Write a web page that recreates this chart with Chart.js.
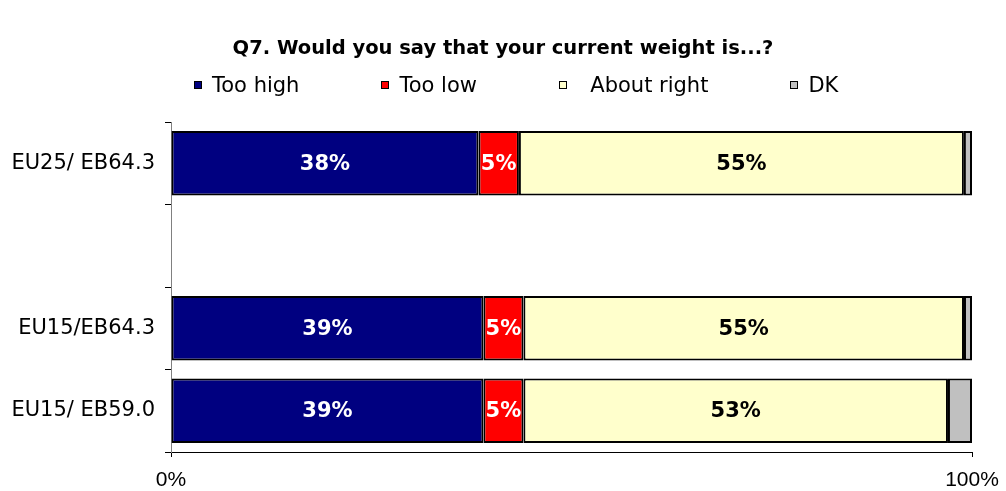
<!DOCTYPE html>
<html>
<head>
<meta charset="utf-8">
<script src="https://cdn.jsdelivr.net/npm/chart.js@4.4.0/dist/chart.umd.min.js"></script>
<style>
    body { margin: 0; background: #fff; }
    #wrap { position: relative; width: 1006px; height: 491px; }
    #legend {
        position: absolute; left: 194px; top: 73px; height: 24px;
        display: flex; align-items: center; gap: 82px;
        font: 21px "DejaVu Sans", sans-serif; color: #000;
    }
    #legend .item { display: flex; align-items: center; white-space: pre; }
    #legend .box { width: 6px; height: 6px; border: 1.5px solid #000; margin-right: 10px; }
</style>
</head>
<body>
<div id="wrap">
    <canvas id="weightChart"></canvas>
    <div id="legend"></div>
</div>
<script>
// Q7 data (raw answers, Excel draws them as a 100% stacked bar)
const categories = ['EU25/ EB64.3', '', 'EU15/EB64.3', 'EU15/ EB59.0'];
const seriesLabels = ['Too high', 'Too low', '  About right', 'DK'];
const tooHigh = [38, null, 39, 39];
const tooLow = [5, null, 5, 5];
const aboutRight = [55, null, 55, 53];
const dontKnow = [1, null, 1, 3];

const rawSeries = [tooHigh, tooLow, aboutRight, dontKnow];
const colors = ['#000080', '#ff0000', '#ffffcc', '#c0c0c0'];
const labelColors = ['#ffffff', '#ffffff', '#000000', null];

// totals per category, used to scale each row to 100%
const totals = categories.map((c, j) => {
    if (tooHigh[j] == null) return null;
    return rawSeries.reduce((sum, s) => sum + s[j], 0);
});

const datasets = rawSeries.map((values, i) => ({
    label: seriesLabels[i],
    data: values.map((v, j) => v == null ? null : v * 100 / totals[j]),
    rawValues: values,
    labelColor: labelColors[i],
    backgroundColor: colors[i],
    borderColor: '#000000',
    borderWidth: 2,
    borderSkipped: false,
    barPercentage: 0.78,
    categoryPercentage: 1
}));

// draw the % values inside the bars
const barLabels = {
    id: 'barLabels',
    afterDatasetsDraw(chart) {
        const ctx = chart.ctx;
        ctx.save();
        ctx.font = 'bold 21px "DejaVu Sans", sans-serif';
        ctx.textAlign = 'center';
        ctx.textBaseline = 'middle';
        chart.data.datasets.forEach((ds, i) => {
            if (!ds.labelColor) return;
            chart.getDatasetMeta(i).data.forEach((bar, j) => {
                const v = ds.rawValues[j];
                if (v == null) return;
                ctx.fillStyle = ds.labelColor;
                ctx.fillText(v + '%', (bar.x + bar.base) / 2, bar.y + 1);
            });
        });
        ctx.restore();
    }
};

const ctx = document.getElementById('weightChart').getContext('2d');
const weightChart = new Chart(ctx, {
    type: 'bar',
    data: { labels: categories, datasets: datasets },
    plugins: [barLabels],
    options: {
        indexAxis: 'y',
        responsive: true,
        maintainAspectRatio: false,
        animation: false,
        layout: { padding: 0 },
        plugins: {
            legend: { display: false },
            tooltip: { enabled: false },
            title: {
                display: true,
                text: 'Q7. Would you say that your current weight is...?',
                color: '#000',
                font: { family: '"DejaVu Sans", sans-serif', size: 19.5, weight: 'bold' },
                padding: { top: 37, bottom: 61.6 }
            }
        },
        scales: {
            x: {
                stacked: true,
                min: 0,
                max: 100,
                ticks: {
                    stepSize: 100,
                    padding: 11,
                    color: '#000',
                    font: { family: '"Liberation Sans", Arial, sans-serif', size: 21 },
                    callback: function(value) {
                        return value + '%';
                    }
                },
                grid: { drawOnChartArea: false, drawTicks: true, tickLength: 5, color: '#000' },
                border: { color: '#000', width: 1 },
                afterFit: function(scale) {
                    scale.height = 39;
                    scale.paddingLeft = 0;
                    scale.paddingRight = 34;
                }
            },
            y: {
                stacked: true,
                ticks: {
                    padding: 10,
                    color: '#000',
                    font: { family: '"DejaVu Sans", sans-serif', size: 21 }
                },
                grid: { drawOnChartArea: false, drawTicks: true, tickLength: 6, color: '#000', offset: true },
                border: { color: '#808080', width: 1 },
                afterFit: function(scale) {
                    scale.width = 171;
                }
            }
        }
    }
});

// HTML legend built from the datasets
const legendEl = document.getElementById('legend');
weightChart.data.datasets.forEach(ds => {
    const item = document.createElement('span');
    item.className = 'item';
    const box = document.createElement('span');
    box.className = 'box';
    box.style.background = ds.backgroundColor;
    item.appendChild(box);
    item.appendChild(document.createTextNode(ds.label));
    legendEl.appendChild(item);
});
</script>
</body>
</html>
